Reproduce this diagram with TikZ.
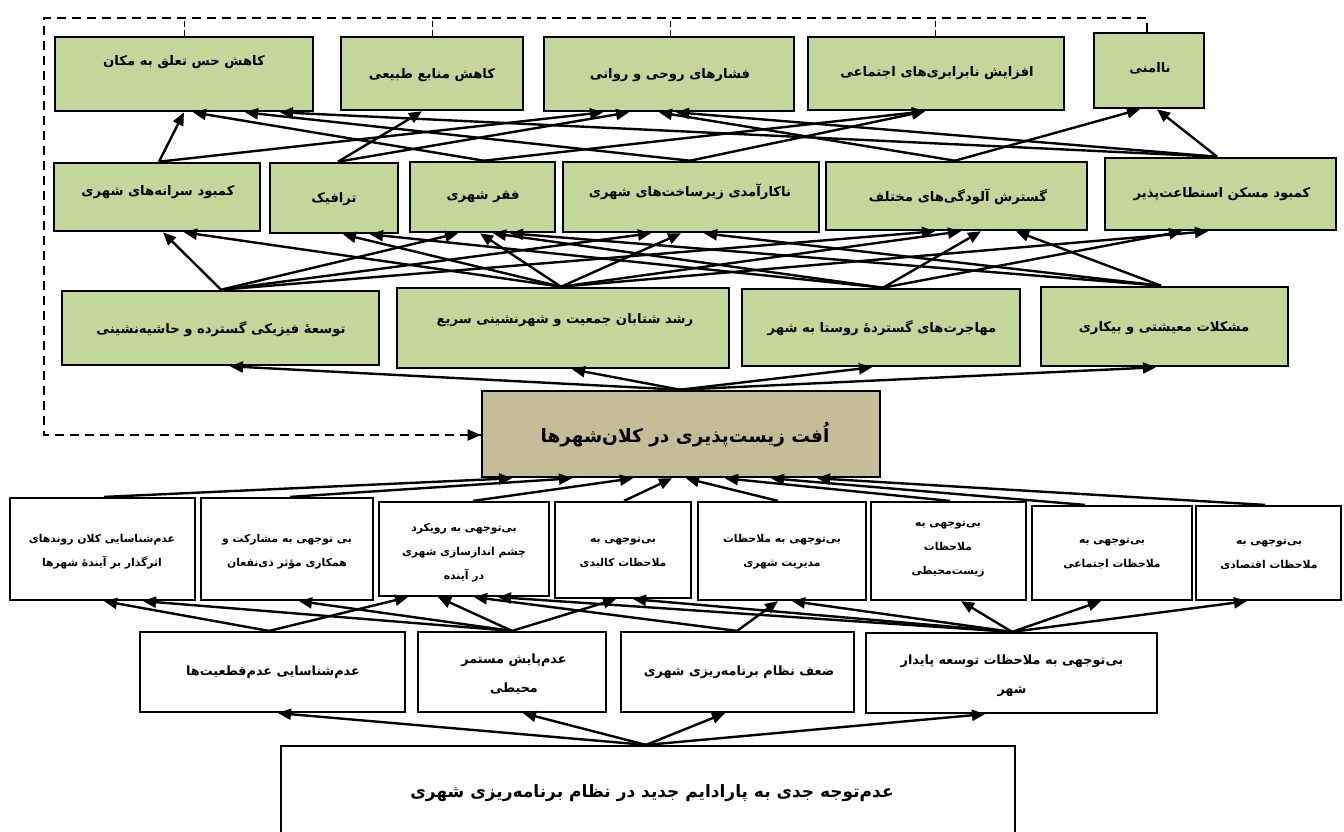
\documentclass[tikz,border=0pt]{standalone}
\usepackage{fontspec}
\usetikzlibrary{arrows.meta,fit}
\TeXXeTstate=1
\newfontfamily\arfont[Script=Arabic]{DejaVu Sans}
\newcommand\fa[1]{\beginR#1\endR}
\newcommand\nf{^^^^200c}
\definecolor{boxgreen}{RGB}{196,215,155}
\definecolor{boxtan}{RGB}{196,189,151}
\tikzset{
 gbox/.style={draw=black, line width=2.6pt, fill=boxgreen, inner sep=0pt},
 cbox/.style={draw=black, line width=2.6pt, fill=boxtan, inner sep=0pt},
 wbox/.style={draw=black, line width=2.2pt, fill=white, inner sep=0pt},
 lbl/.style={font=\arfont\bfseries\fontsize{13.2}{15}\selectfont, inner sep=0pt, align=center},
 clbl/.style={font=\arfont\bfseries\fontsize{18.5}{21}\selectfont, inner sep=0pt, align=center},
 blbl/.style={font=\arfont\bfseries\fontsize{17}{20}\selectfont, inner sep=0pt, align=center},
 slbl/.style={font=\arfont\bfseries\fontsize{10.8}{24}\selectfont, inner sep=0pt, align=center},
 mlbl/.style={font=\arfont\bfseries\fontsize{12.8}{29}\selectfont, inner sep=0pt, align=center},
 arr/.style={line width=2.4pt, -{Triangle[length=13pt,width=11pt]}},
 dline/.style={line width=2pt, dash pattern=on 9pt off 6pt},
 tickline/.style={line width=1pt, dash pattern=on 6pt off 3pt},
}
\newcommand\edge[4]{\draw[arr] (#1.north -| #2,0) -- (#3.south -| #4,0);}
\begin{document}
\begin{tikzpicture}[x=1pt,y=-1pt]
\useasboundingbox (0,0) rectangle (1344,831);
% ---------- top row ----------
\node[gbox, fit={(55,37) (313,111)}] (t1) {};
\node[gbox, fit={(341,37) (523,110)}] (t2) {};
\node[gbox, fit={(544,37) (794,111)}] (t3) {};
\node[gbox, fit={(808,37) (1064,110)}] (t4) {};
\node[gbox, fit={(1094,33) (1204,108)}] (t5) {};
\node[lbl] (t1l) at (184,62) {\fa{کاهش حس تعلق به مکان}};
\node[lbl] (t2l) at (432,75) {\fa{کاهش منابع طبیعی}};
\node[lbl] (t3l) at (670,75) {\fa{فشارهای روحی و روانی}};
\node[lbl] (t4l) at (937,73) {\fa{افزایش نابرابری\nf های اجتماعی}};
\node[lbl] (t5l) at (1150,68) {\fa{ناامنی}};
% ---------- second row ----------
\node[gbox, fit={(54,163) (260,231)}] (s1) {};
\node[gbox, fit={(270,163) (398,233)}] (s2) {};
\node[gbox, fit={(410,162) (555,232)}] (s3) {};
\node[gbox, fit={(563,162) (819,232)}] (s4) {};
\node[gbox, fit={(826,162) (1087,230)}] (s5) {};
\node[gbox, fit={(1105,158) (1336,230)}] (s6) {};
\node[lbl] (s1l) at (158,192) {\fa{کمبود سرانه\nf های شهری}};
\node[lbl] (s2l) at (334,199) {\fa{ترافیک}};
\node[lbl] (s3l) at (483,197) {\fa{فقر شهری}};
\node[lbl] (s4l) at (690,192) {\fa{ناکارآمدی زیرساخت\nf های شهری}};
\node[lbl] (s5l) at (958,197) {\fa{گسترش آلودگی\nf های مختلف}};
\node[lbl] (s6l) at (1222,194) {\fa{کمبود مسکن استطاعت\nf پذیر}};
% ---------- third row ----------
\node[gbox, fit={(62,291) (379,365)}] (r1) {};
\node[gbox, fit={(397,288) (729,368)}] (r2) {};
\node[gbox, fit={(742,289) (1020,366)}] (r3) {};
\node[gbox, fit={(1041,287) (1288,366)}] (r4) {};
\node[lbl] (r1l) at (221,329) {\fa{توسعهٔ فیزیکی گسترده و حاشیه\nf نشینی}};
\node[lbl] (r2l) at (565,320) {\fa{رشد شتابان جمعیت و شهرنشینی سریع}};
\node[lbl] (r3l) at (882,328) {\fa{مهاجرت\nf های گستردهٔ روستا به شهر}};
\node[lbl] (r4l) at (1164,328) {\fa{مشکلات معیشتی و بیکاری}};
% ---------- centre ----------
\node[cbox, fit={(482,391) (880,477)}] (C) {};
\node[clbl] (Cl) at (685,435) {\fa{اُفت زیست\nf پذیری در کلان\nf شهرها}};
% ---------- fourth row ----------
\node[wbox, fit={(10,498) (195,600)}] (f1) {};
\node[wbox, fit={(201,498) (373,600)}] (f2) {};
\node[wbox, fit={(379,502) (549,596)}] (f3) {};
\node[wbox, fit={(555,502) (691,598)}] (f4) {};
\node[wbox, fit={(698,502) (866,600)}] (f5) {};
\node[wbox, fit={(871,502) (1026,600)}] (f6) {};
\node[wbox, fit={(1032,506) (1192,600)}] (f7) {};
\node[wbox, fit={(1196,506) (1341,600)}] (f8) {};
\node[slbl] (f1l) at (102,552) {\fa{عدم\nf شناسایی کلان روندهای}\\\fa{اثرگذار بر آیندهٔ شهرها}};
\node[slbl] (f2l) at (287,552) {\fa{بی توجهی به مشارکت و}\\\fa{همکاری مؤثر ذی\nf نفعان}};
\node[slbl] (f3l) at (464,553) {\fa{بی\nf توجهی به رویکرد}\\\fa{چشم اندازسازی شهری}\\\fa{در آینده}};
\node[slbl] (f4l) at (623,553) {\fa{بی\nf توجهی به}\\\fa{ملاحظات کالبدی}};
\node[slbl] (f5l) at (782,552) {\fa{بی\nf توجهی به ملاحظات}\\\fa{مدیریت شهری}};
\node[slbl] (f6l) at (948,549) {\fa{بی\nf توجهی به}\\\fa{ملاحظات}\\\fa{زیست\nf محیطی}};
\node[slbl] (f7l) at (1112,554) {\fa{بی\nf توجهی به}\\\fa{ملاحظات اجتماعی}};
\node[slbl] (f8l) at (1269,554) {\fa{بی\nf توجهی به}\\\fa{ملاحظات اقتصادی}};
% ---------- fifth row ----------
\node[wbox, fit={(140,632) (405,712)}] (g1) {};
\node[wbox, fit={(418,632) (606,712)}] (g2) {};
\node[wbox, fit={(621,632) (854,712)}] (g3) {};
\node[wbox, fit={(866,633) (1157,713)}] (g4) {};
\node[mlbl] (g1l) at (273,672) {\fa{عدم\nf شناسایی عدم\nf قطعیت\nf ها}};
\node[mlbl] (g2l) at (514,674) {\fa{عدم\nf پایش مستمر}\\\fa{محیطی}};
\node[mlbl] (g3l) at (739,672) {\fa{ضعف نظام برنامه\nf ریزی شهری}};
\node[mlbl] (g4l) at (1012,676) {\fa{بی\nf توجهی به ملاحظات توسعه پایدار}\\\fa{شهر}};
% ---------- bottom ----------
\node[wbox, fit={(281,746) (1015,850)}] (B) {};
\node[blbl] (Bl) at (652,793) {\fa{عدم\nf توجه جدی به پارادایم جدید در نظام برنامه\nf ریزی شهری}};
% ---------- dashed feedback ----------
\coordinate (fbTL) at (44,18);
\coordinate (fbTR) at (1147,18);
\coordinate (fbBL) at (44,435);
\coordinate (tk1) at (184,18);
\coordinate (tk2) at (432,18);
\coordinate (tk3) at (670,18);
\coordinate (tk4) at (935,18);
\draw[dline] (t5.north -| fbTR) -- (fbTR) -- (fbTL) -- (fbBL) -- (fbBL -| C.west);
\draw[-{Triangle[length=13pt,width=11pt]}, line width=2pt] ([xshift=-12pt]fbBL -| C.west) -- (fbBL -| C.west);
\draw[tickline] (t1.north -| tk1) -- (tk1);
\draw[tickline] (t2.north -| tk2) -- (tk2);
\draw[tickline] (t3.north -| tk3) -- (tk3);
\draw[tickline] (t4.north -| tk4) -- (tk4);
% ---------- bottom -> fifth ----------
\edge{B}{646}{g1}{278}
\edge{B}{646}{g2}{523}
\edge{B}{646}{g3}{725}
\edge{B}{646}{g4}{985}
% ---------- fifth -> fourth ----------
\edge{g1}{269}{f1}{104}
\edge{g1}{269}{f3}{408}
\edge{g2}{512}{f1}{143}
\edge{g2}{512}{f2}{299}
\edge{g2}{512}{f3}{438}
\edge{g2}{512}{f4}{616}
\edge{g3}{737}{f3}{474}
\edge{g3}{737}{f5}{778}
\edge{g4}{1012}{f3}{498}
\edge{g4}{1012}{f4}{633}
\edge{g4}{1012}{f5}{792}
\edge{g4}{1012}{f6}{961}
\edge{g4}{1012}{f7}{1101}
\edge{g4}{1012}{f8}{1247}
% ---------- fourth -> centre ----------
\edge{f1}{104}{C}{512}
\edge{f2}{290}{C}{572}
\edge{f3}{473}{C}{633}
\edge{f4}{624}{C}{672}
\edge{f5}{778}{C}{686}
\edge{f6}{950}{C}{725}
\edge{f7}{1085}{C}{771}
\edge{f8}{1265}{C}{817}
% ---------- centre -> third ----------
\edge{C}{680}{r1}{230}
\edge{C}{680}{r2}{572}
\edge{C}{680}{r3}{872}
\edge{C}{680}{r4}{1156}
% ---------- third -> second ----------
\edge{r1}{221}{s1}{163}
\edge{r1}{221}{s3}{458}
\edge{r1}{221}{s4}{651}
\edge{r1}{221}{s5}{935}
\edge{r2}{561}{s1}{184}
\edge{r2}{561}{s2}{343}
\edge{r2}{561}{s3}{480}
\edge{r2}{561}{s4}{681}
\edge{r2}{561}{s5}{961}
\edge{r2}{561}{s6}{1208}
\edge{r3}{883}{s2}{370}
\edge{r3}{883}{s3}{493}
\edge{r3}{883}{s5}{981}
\edge{r3}{883}{s6}{1182}
\edge{r4}{1161}{s3}{510}
\edge{r4}{1161}{s4}{704}
\edge{r4}{1161}{s5}{1016}
% ---------- second -> top ----------
\edge{s1}{159}{t1}{184}
\edge{s1}{159}{t3}{603}
\edge{s2}{338}{t2}{422}
\edge{s2}{338}{t3}{629}
\edge{s3}{484}{t1}{193}
\edge{s3}{484}{t4}{925}
\edge{s4}{690}{t1}{245}
\edge{s4}{690}{t4}{925}
\edge{s5}{955}{t3}{659}
\edge{s5}{955}{t5}{1140}
\edge{s6}{1217}{t5}{1157}
\edge{s6}{1217}{t1}{280}
\edge{s6}{1217}{t3}{676}
\end{tikzpicture}
\end{document}
